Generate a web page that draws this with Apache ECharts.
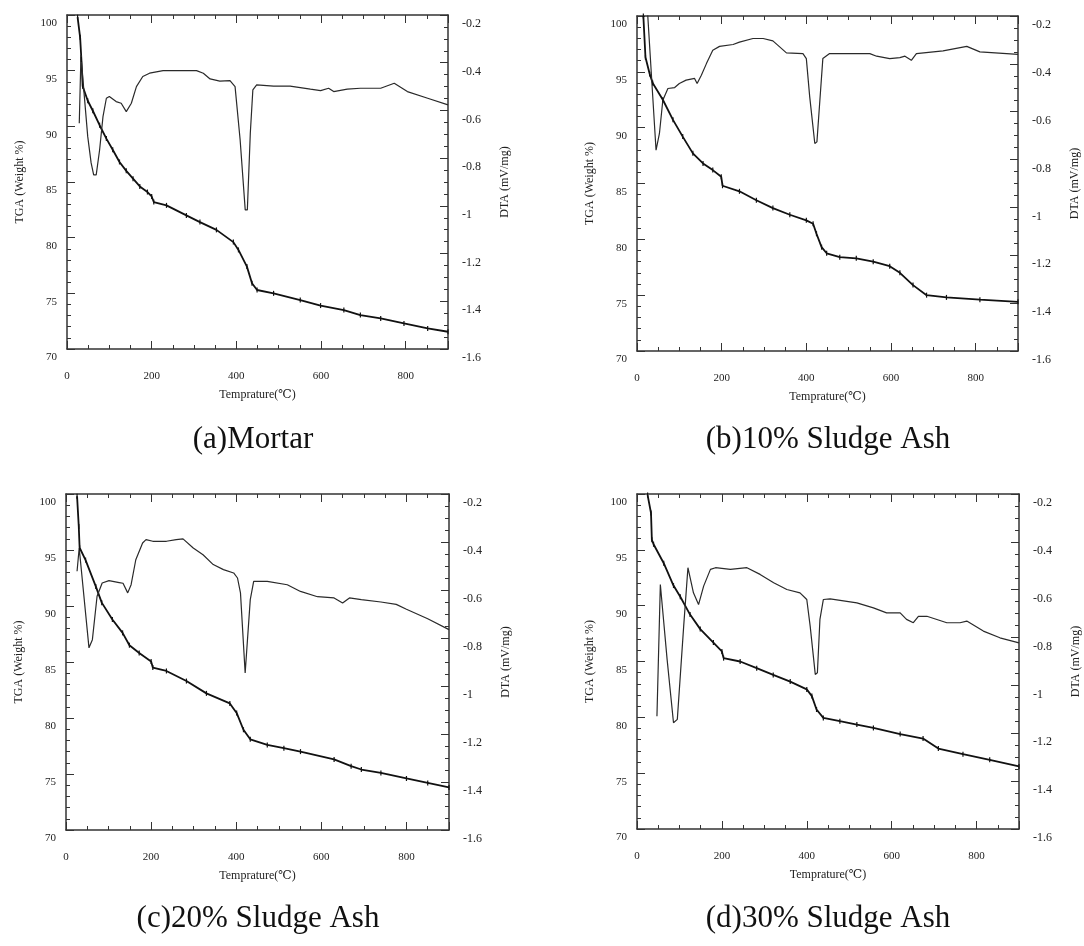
<!DOCTYPE html>
<html>
<head>
<meta charset="utf-8">
<title>TGA / DTA of mortar with sludge ash</title>
<script src="https://cdn.jsdelivr.net/npm/echarts@6/dist/echarts.min.js"></script>
<style>
  html, body { margin: 0; padding: 0; background: #fff; }
  #chart { width: 1084px; height: 946px; }
</style>
</head>
<body>
<div id="chart"></div>
<script>
// (a) Mortar
const tgaTempA = [25, 31, 34, 37, 49, 61, 77, 93, 108, 124, 140, 156, 172, 190, 200, 205, 235, 282, 314, 353, 393, 405, 425, 437, 449, 488, 551, 599, 654, 693, 741, 796, 852, 900];
const tgaA = [99.8, 98.0, 96.0, 93.6, 92.3, 91.4, 90.1, 88.9, 87.9, 86.8, 86.0, 85.3, 84.6, 84.1, 83.7, 83.2, 82.9, 82.0, 81.4, 80.7, 79.6, 78.9, 77.4, 75.9, 75.3, 75.0, 74.4, 73.9, 73.5, 73.05, 72.75, 72.3, 71.85, 71.55];
const dtaTempA = [29, 33, 41, 49, 57, 63, 69, 77, 85, 93, 100, 116, 128, 140, 144, 152, 164, 179, 195, 227, 306, 322, 338, 361, 385, 397, 409, 421, 426, 433, 439, 448, 488, 527, 575, 599, 618, 630, 662, 693, 741, 773, 804, 852, 900];
const dtaA = [-0.654, -0.368, -0.542, -0.71, -0.82, -0.87, -0.87, -0.766, -0.626, -0.549, -0.542, -0.563, -0.57, -0.605, -0.612, -0.57, -0.5, -0.458, -0.444, -0.433, -0.433, -0.444, -0.468, -0.477, -0.475, -0.5, -0.724, -1.017, -1.017, -0.696, -0.514, -0.493, -0.498, -0.498, -0.511, -0.517, -0.507, -0.521, -0.511, -0.507, -0.507, -0.486, -0.521, -0.549, -0.577];

// (b) 10% sludge ash
const tgaTempB = [15, 20, 30, 37, 61, 85, 108, 132, 156, 179, 199, 202, 242, 282, 321, 361, 400, 416, 424, 436, 448, 479, 518, 558, 597, 621, 652, 684, 731, 810, 900];
const tgaB = [100, 96.3, 94.8, 94.0, 92.5, 90.7, 89.2, 87.7, 86.8, 86.2, 85.6, 84.8, 84.3, 83.5, 82.8, 82.2, 81.7, 81.4, 80.5, 79.3, 78.75, 78.4, 78.3, 78.0, 77.6, 77.0, 75.9, 75.0, 74.8, 74.6, 74.4];
const dtaTempB = [22, 45, 53, 61, 73, 89, 100, 116, 136, 142, 152, 164, 179, 195, 227, 242, 274, 298, 321, 337, 353, 392, 400, 408, 420, 425, 432, 439, 455, 550, 566, 597, 621, 633, 648, 660, 723, 779, 810, 900];
const dtaB = [-0.1, -0.761, -0.691, -0.552, -0.503, -0.499, -0.482, -0.468, -0.461, -0.482, -0.448, -0.399, -0.343, -0.327, -0.319, -0.309, -0.294, -0.294, -0.304, -0.329, -0.354, -0.357, -0.378, -0.538, -0.733, -0.726, -0.552, -0.378, -0.357, -0.357, -0.368, -0.378, -0.374, -0.368, -0.385, -0.357, -0.346, -0.327, -0.35, -0.36];

// (c) 20% sludge ash
const tgaTempC = [26, 30, 32, 46, 70, 84, 109, 133, 149, 172, 200, 204, 236, 283, 330, 385, 401, 417, 433, 473, 512, 551, 630, 670, 694, 740, 800, 850, 900];
const tgaC = [99.8, 97.1, 95.2, 94.1, 91.75, 90.3, 88.8, 87.6, 86.5, 85.8, 85.05, 84.5, 84.2, 83.3, 82.2, 81.3, 80.45, 78.95, 78.1, 77.6, 77.3, 77.0, 76.3, 75.7, 75.4, 75.1, 74.6, 74.2, 73.8];
const dtaTempC = [26, 31, 54, 62, 73, 85, 101, 125, 134, 145, 153, 164, 180, 188, 204, 236, 259, 275, 299, 322, 346, 370, 394, 403, 410, 421, 425, 433, 441, 473, 520, 551, 591, 630, 650, 666, 694, 740, 776, 800, 850, 900];
const dtaC = [-0.522, -0.425, -0.841, -0.807, -0.626, -0.571, -0.561, -0.569, -0.572, -0.612, -0.578, -0.474, -0.404, -0.39, -0.397, -0.397, -0.39, -0.387, -0.425, -0.453, -0.494, -0.515, -0.529, -0.55, -0.612, -0.946, -0.946, -0.64, -0.564, -0.564, -0.578, -0.606, -0.628, -0.633, -0.654, -0.633, -0.64, -0.65, -0.66, -0.68, -0.72, -0.765];

// (d) 30% sludge ash
const tgaTempD = [25, 33, 35, 39, 63, 86, 102, 125, 149, 180, 200, 204, 243, 282, 321, 361, 400, 412, 423, 439, 478, 518, 557, 620, 674, 710, 768, 831, 900];
const tgaD = [99.9, 98.3, 95.9, 95.5, 93.8, 91.8, 90.8, 89.2, 87.9, 86.7, 85.9, 85.3, 85.0, 84.4, 83.8, 83.2, 82.5, 81.9, 80.7, 79.95, 79.65, 79.35, 79.05, 78.5, 78.1, 77.2, 76.7, 76.2, 75.6];
const dtaTempD = [47, 55, 71, 86, 95, 110, 120, 133, 145, 157, 173, 185, 220, 259, 290, 322, 353, 384, 400, 408, 420, 425, 431, 439, 455, 518, 557, 588, 620, 635, 651, 663, 683, 730, 761, 777, 816, 855, 900];
const dtaD = [-1.129, -0.578, -0.892, -1.156, -1.142, -0.752, -0.508, -0.613, -0.662, -0.585, -0.515, -0.508, -0.515, -0.508, -0.536, -0.571, -0.599, -0.613, -0.641, -0.752, -0.954, -0.947, -0.724, -0.641, -0.638, -0.655, -0.676, -0.697, -0.697, -0.724, -0.738, -0.711, -0.711, -0.738, -0.738, -0.731, -0.773, -0.801, -0.822];

const panelTitles = ['(a)Mortar', '(b)10% Sludge Ash', '(c)20% Sludge Ash', '(d)30% Sludge Ash'];
const xName = 'Temprature(\u2103)';
const tgaName = 'TGA (Weight %)';
const dtaName = 'DTA (mV/mg)';

const serif = '"Liberation Serif", "DejaVu Serif", serif';
const ink = '#222';

// plot boxes: left, top, width, height (px)
const boxes = [
  [67, 15, 381, 334],
  [637, 16, 381, 335],
  [66, 494, 383, 336],
  [637, 494, 382, 335]
];
const titlePos = [[253, 440], [828, 440], [258, 919], [828, 919]];

const panels = [
  [tgaTempA, tgaA, dtaTempA, dtaA],
  [tgaTempB, tgaB, dtaTempB, dtaB],
  [tgaTempC, tgaC, dtaTempC, dtaC],
  [tgaTempD, tgaD, dtaTempD, dtaD]
];

function zip(xs, ys) {
  return xs.map((x, k) => [x, ys[k]]);
}

let grids = [], xAxes = [], yAxes = [], series = [], graphics = [];

panels.forEach((p, i) => {
  let b = boxes[i];
  grids.push({ left: b[0], top: b[1], width: b[2], height: b[3], containLabel: false, outerBoundsMode: 'none' });

  let tickStyle = { color: '#333', width: 1 };
  let frame = { show: true, onZero: false, lineStyle: { color: '#333', width: 1.5 } };
  let noLine = { show: false, onZero: false };

  // short ticks every 50, long ticks every 200, on bottom and top
  ['bottom', 'top'].forEach(pos => {
    xAxes.push({
      type: 'value', gridIndex: i, position: pos, min: 0, max: 900, interval: 50,
      axisLine: frame,
      axisTick: { inside: true, length: 4, lineStyle: tickStyle },
      splitLine: { show: false },
      axisLabel: pos === 'bottom' ? {
        show: true, margin: 22, fontSize: 11, fontFamily: serif, color: ink,
        formatter: v => (v % 200 === 0 && v < 900) ? String(v) : ''
      } : { show: false },
      name: pos === 'bottom' ? xName : '',
      nameLocation: 'middle', nameGap: 40,
      nameTextStyle: { fontSize: 12, fontFamily: serif, color: ink }
    });
    xAxes.push({
      type: 'value', gridIndex: i, position: pos, min: 0, max: 900, interval: 200,
      axisLine: noLine,
      axisTick: { inside: true, length: 8, lineStyle: tickStyle },
      splitLine: { show: false },
      axisLabel: { show: false }
    });
  });

  yAxes.push({
    type: 'value', gridIndex: i, position: 'left', min: 70, max: 100, interval: 5,
    axisLine: frame,
    axisTick: { inside: true, length: 8, lineStyle: tickStyle },
    minorTick: { show: true, splitNumber: 5, length: 4, lineStyle: tickStyle },
    splitLine: { show: false },
    axisLabel: { margin: 10, fontSize: 11, fontFamily: serif, color: ink, verticalAlign: 'top', padding: [3, 0, 0, 0] },
    name: tgaName, nameLocation: 'middle', nameGap: 41,
    nameTextStyle: { fontSize: 12, fontFamily: serif, color: ink }
  });
  yAxes.push({
    type: 'value', gridIndex: i, position: 'right', min: -1.6, max: -0.2, interval: 0.2,
    axisLine: frame,
    axisTick: { inside: true, length: 8, lineStyle: tickStyle },
    minorTick: { show: true, splitNumber: 4, length: 4, lineStyle: tickStyle },
    splitLine: { show: false },
    axisLabel: { margin: 14, fontSize: 12, fontFamily: serif, color: ink, verticalAlign: 'top', padding: [3, 0, 0, 0] },
    name: dtaName, nameLocation: 'middle', nameGap: 51,
    nameTextStyle: { fontSize: 12, fontFamily: serif, color: ink }
  });

  series.push({
    name: 'TGA', type: 'line', xAxisIndex: 4 * i, yAxisIndex: 2 * i,
    data: zip(p[0], p[1]),
    symbol: 'rect', symbolSize: [1.2, 5], showSymbol: true,
    itemStyle: { color: '#111' },
    lineStyle: { color: '#111', width: 1.8 },
    clip: true
  });
  series.push({
    name: 'DTA', type: 'line', xAxisIndex: 4 * i, yAxisIndex: 2 * i + 1,
    data: zip(p[2], p[3]),
    symbol: 'none',
    lineStyle: { color: '#2a2a2a', width: 1.2 },
    clip: true
  });

  graphics.push({
    type: 'text', x: titlePos[i][0], y: titlePos[i][1],
    style: { text: panelTitles[i], fontSize: 31, fontFamily: serif, fill: '#111', align: 'center', verticalAlign: 'middle' }
  });
});

let chart = echarts.init(document.getElementById('chart'), null, { renderer: 'canvas' });

let option = {
  backgroundColor: '#fff',
  animation: false,
  grid: grids,
  xAxis: xAxes,
  yAxis: yAxes,
  series: series,
  graphic: graphics
};

chart.setOption(option);
window.addEventListener('resize', chart.resize);
</script>
</body>
</html>
